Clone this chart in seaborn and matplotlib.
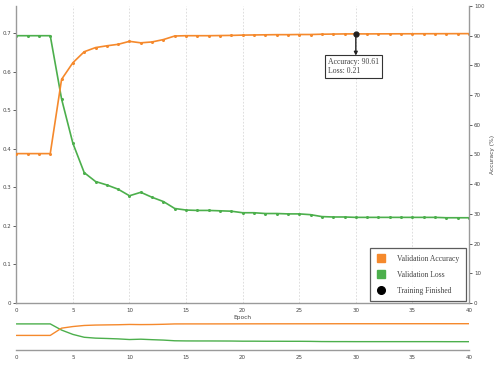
import matplotlib
matplotlib.use("Agg")
import matplotlib.pyplot as plt
import seaborn as sns
import pandas as pd
import numpy as np
from matplotlib.lines import Line2D

epochs = list(range(41))
accuracy = [50.3, 50.3, 50.3, 50.3, 75.3, 80.9, 84.6, 86.0, 86.6, 87.1,
            88.1, 87.6, 87.9, 88.7, 89.9, 90.0, 90.0, 90.0, 90.05, 90.1,
            90.2, 90.25, 90.3, 90.35, 90.35, 90.4, 90.4, 90.5, 90.55, 90.6,
            90.61, 90.6, 90.62, 90.63, 90.64, 90.65, 90.66, 90.67, 90.68, 90.69, 90.7]
loss = [0.693, 0.693, 0.693, 0.693, 0.529, 0.414, 0.338, 0.315, 0.306, 0.295,
        0.278, 0.287, 0.274, 0.263, 0.245, 0.241, 0.240, 0.240, 0.239, 0.238,
        0.234, 0.234, 0.232, 0.232, 0.231, 0.231, 0.229, 0.224, 0.223, 0.223,
        0.222, 0.222, 0.222, 0.222, 0.222, 0.222, 0.222, 0.222, 0.221, 0.221, 0.221]
finish_epoch = 30
finish_acc = 90.61
finish_loss_label = 0.21
x_ticks = list(range(0, 41, 5))
loss_ticks = [0, 0.1, 0.2, 0.3, 0.4, 0.5, 0.6, 0.7]
acc_ticks = list(range(0, 101, 10))
legend_labels = ["Validation Accuracy", "Validation Loss", "Training Finished"]

df = pd.DataFrame({"epoch": epochs, "accuracy": accuracy, "loss": loss})

sns.set_style("white")
plt.rcParams["font.family"] = ["DejaVu Sans"]

ORANGE = "#f5892c"
GREEN = "#4caf4c"
SPINE = "#9a9a9a"
TXT = "#444444"

fig = plt.figure(figsize=(4.98, 3.68), dpi=100)
W, H = 498, 368
x0, x1 = 16.3, 469
ax = fig.add_axes([x0 / W, 1 - 303 / H, (x1 - x0) / W, (303 - 6) / H])
ax2 = ax.twinx()
axc = fig.add_axes([x0 / W, 1 - 350 / H, (x1 - x0) / W, 29 / H])
axc2 = axc.twinx()

sns.lineplot(data=df, x="epoch", y="loss", ax=ax, color=GREEN, lw=1.2,
             marker="o", markersize=2.2, markeredgewidth=0, legend=False)
sns.lineplot(data=df, x="epoch", y="accuracy", ax=ax2, color=ORANGE, lw=1.2,
             marker="o", markersize=2.2, markeredgewidth=0, legend=False)

ax.set_xlim(0, 40)
ax.set_ylim(0, 0.77)
ax2.set_ylim(0, 100)
ax.set_xticks(x_ticks)
ax.set_yticks(loss_ticks)
ax2.set_yticks(acc_ticks)
ax.set_yticklabels([f"{v:g}" for v in loss_ticks])
ax.set_xticklabels([str(v) for v in x_ticks])
for a in (ax, ax2):
    a.tick_params(labelsize=4, colors=TXT, length=2, width=0.6, pad=1.5)
    for s in a.spines.values():
        s.set_visible(False)
ax.spines["left"].set_visible(True)
ax.spines["bottom"].set_visible(True)
ax2.spines["right"].set_visible(True)
for s in (ax.spines["left"], ax.spines["bottom"], ax2.spines["right"]):
    s.set_color(SPINE)
    s.set_linewidth(1.0)
ax.set_xlabel("Epoch", fontsize=4.2, color=TXT, labelpad=1.5)
ax.set_ylabel("")
ax2.set_ylabel("Accuracy (%)", fontsize=4.2, color=TXT, rotation=90, labelpad=4)
for xv in x_ticks[1:-1]:
    ax.axvline(xv, color="#d8d8d8", lw=0.6, ls=(0, (2, 2)), zorder=0)

# training finished marker and annotation
ax2.plot([finish_epoch], [finish_acc], "o", color="#222222", markersize=3.5, zorder=5)
ax2.annotate("", xy=(finish_epoch, 83.3), xytext=(finish_epoch, finish_acc),
             arrowprops=dict(arrowstyle="-|>", color="#222222", lw=1.0,
                             mutation_scale=5, shrinkA=0, shrinkB=0), zorder=4)
ax2.text(27.55, 82.6, f"Accuracy: {finish_acc:.2f}\nLoss: {finish_loss_label:.2f}",
         family="Liberation Serif", fontsize=5.6, color="#444444", va="top", ha="left",
         linespacing=1.3,
         bbox=dict(boxstyle="square,pad=0.35", fc="white", ec="#333333", lw=0.8), zorder=6)

# legend
handles = [Line2D([], [], ls="", marker="s", color=ORANGE, markersize=5.5),
           Line2D([], [], ls="", marker="s", color=GREEN, markersize=5.5),
           Line2D([], [], ls="", marker="o", color="black", markersize=5.5)]
leg = ax2.legend(handles, legend_labels, loc="lower right", bbox_to_anchor=(0.997, 0.0),
                 prop={"family": "Liberation Serif", "size": 5.5}, frameon=True,
                 fancybox=False, edgecolor="#333333", labelspacing=1.05,
                 handletextpad=1.6, borderpad=0.9, borderaxespad=0.2, handlelength=1.0,
                 labelcolor="#444444")
leg.get_frame().set_linewidth(0.9)

# context plot
sns.lineplot(data=df, x="epoch", y="loss", ax=axc, color=GREEN, lw=1.0, legend=False)
sns.lineplot(data=df, x="epoch", y="accuracy", ax=axc2, color=ORANGE, lw=1.0, legend=False)
axc.set_xlim(0, 40)
axc.set_ylim(0, 0.77)
axc2.set_ylim(0, 100)
for a in (axc, axc2):
    a.set_yticks([])
    a.set_ylabel("")
    for s in a.spines.values():
        s.set_visible(False)
axc.spines["bottom"].set_visible(True)
axc.spines["bottom"].set_color(SPINE)
axc.spines["bottom"].set_linewidth(1.0)
axc.set_xticks(x_ticks)
axc.set_xticklabels([str(v) for v in x_ticks])
axc.set_xlabel("")
axc.tick_params(axis="x", labelsize=4, colors=TXT, length=2, width=0.6, pad=1.5)

fig.savefig("out.png", dpi=100)
